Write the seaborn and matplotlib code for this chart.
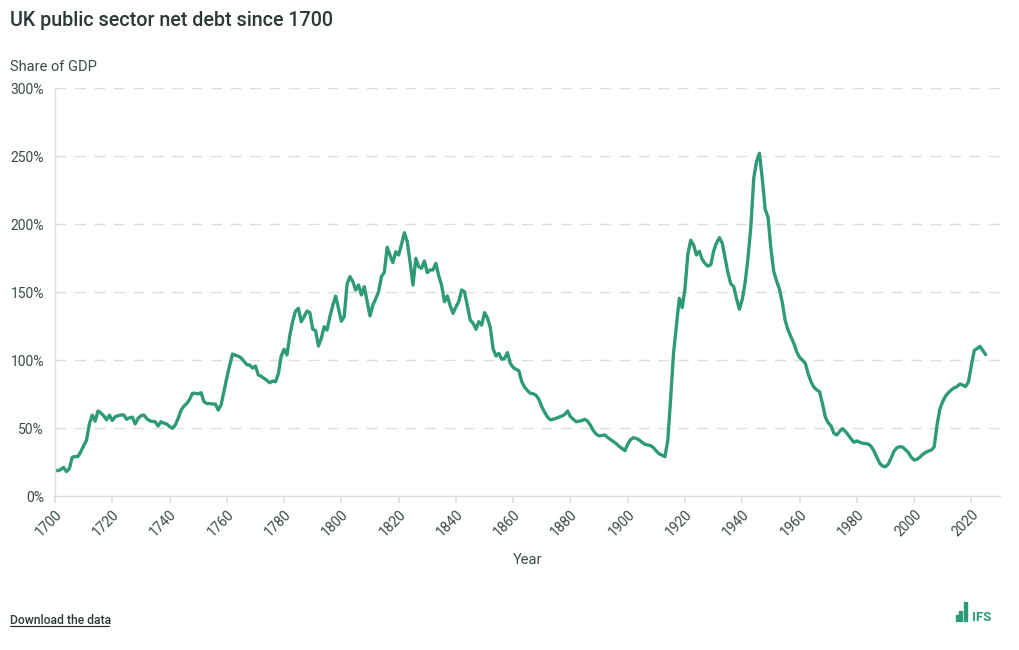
import matplotlib
matplotlib.use("Agg")
import matplotlib.pyplot as plt
import matplotlib.patches as mpatches
import seaborn as sns
import pandas as pd
import numpy as np

years = list(range(1700, 2026))
debt_pct = [
    19, 18.6, 19.5, 21, 18, 20, 28.5, 29, 29, 32.5,            # 1700-1709
    37, 41, 53, 59.5, 55, 62.5, 61, 59, 56, 59.5,              # 1710-1719
    55.5, 58.3, 59, 59.5, 59.6, 56.4, 57.5, 58, 53, 57,        # 1720-1729
    59, 59.6, 57, 55.4, 54.8, 54.6, 51.5, 54.6, 53.5, 53,      # 1730-1739
    51, 49.8, 52.2, 57, 63, 66, 68, 71, 75.5, 75.5,            # 1740-1749
    75, 76, 69.4, 68, 68, 67.6, 67.6, 63.2, 67, 77,            # 1750-1759
    87, 96, 104.4, 103.5, 102.8, 101.5, 99, 96.5, 96.3, 94,    # 1760-1769
    95.6, 89, 88, 86.5, 85, 83.3, 84.5, 84, 90, 103,           # 1770-1779
    107.8, 103.7, 118, 128.5, 136, 138, 128.2, 132, 136, 134.8,  # 1780-1789
    122.6, 121.6, 110.3, 116, 124.5, 122, 132, 140, 147, 138,  # 1790-1799
    128.5, 132, 155.9, 161.3, 157.6, 151.5, 155.1, 147.8, 153.9, 143,  # 1800-1809
    132.4, 140.4, 145, 150.2, 161.3, 164.5, 182.9, 177, 171.6, 179.6,  # 1810-1819
    177.2, 185, 193.6, 187, 172, 155.1, 174.8, 168.6, 167.4, 172.8,    # 1820-1829
    164.2, 166.2, 166.2, 171.1, 162, 155, 142.9, 147.1, 140, 134.3,    # 1830-1839
    139, 143, 151.5, 150.2, 140, 129.4, 127, 122.6, 128.2, 125.7,      # 1840-1849
    134.8, 131, 124, 108, 102.9, 104.9, 100.5, 101.2, 105.4, 97.5,     # 1850-1859
    94.5, 93.2, 92, 84, 80, 77.5, 75.5, 75.2, 74, 71,                  # 1860-1869
    65.5, 61.5, 58, 56, 56.5, 57.1, 58, 58.8, 60, 62.5,                # 1870-1879
    58.3, 56.5, 54.6, 55, 55.4, 56.4, 55, 52, 48, 45.5,                # 1880-1889
    44.2, 44.5, 44.9, 43, 41.5, 40, 38.5, 36.5, 35, 33.3,              # 1890-1899
    38, 41.5, 42.9, 42.3, 41.2, 39.5, 38, 37.5, 37, 35.5,              # 1900-1909
    33, 31, 30, 28.9, 41.2, 72, 105, 125, 145.4, 138.5,                # 1910-1919
    152.5, 178, 188, 184.6, 177.2, 180, 174, 171, 169, 170,            # 1920-1929
    180, 186, 190, 186, 175, 164, 156, 154, 145, 137.3,                # 1930-1939
    144.6, 157, 175, 198, 233.6, 246, 252, 233, 210.8, 204.9,          # 1940-1949
    182, 165, 158, 152, 142, 129, 122, 117, 112.3, 106,                # 1950-1959
    102, 100, 97.6, 90, 84, 80, 78, 76.7, 68, 58,                      # 1960-1969
    53.9, 51.5, 46.1, 44.9, 47.5, 49.5, 47.5, 44.9, 42, 39.5,          # 1970-1979
    40.5, 39.5, 38.8, 38.5, 38.2, 36.5, 33, 28.5, 24, 22,              # 1980-1989
    21.5, 23.5, 28, 33, 35.5, 36.2, 36, 34, 32, 28.5,                  # 1990-1999
    26.5, 27, 28.5, 30.5, 32, 33, 33.8, 36, 52, 64,                    # 2000-2009
    69.5, 73.5, 76, 78, 79.5, 80.5, 82.4, 81.5, 80.5, 84,              # 2010-2019
    96, 107, 108.5, 110, 107, 104,                                     # 2020-2025
]

x_ticks = list(range(1700, 2021, 20))
y_ticks = [0, 50, 100, 150, 200, 250, 300]
y_tick_labels = [f"{v}%" for v in y_ticks]

title = "UK public sector net debt since 1700"
y_title = "Share of GDP"
x_title = "Year"

df = pd.DataFrame({"Year": years, "Debt": debt_pct})

sns.set_theme(style="white")
plt.rcParams["font.family"] = ["Roboto", "DejaVu Sans"]

LINE = "#2e9b74"
TXT = "#3a4a4a"
GRID = "#dedede"

fig = plt.figure(figsize=(10.2, 6.5), dpi=100)
ax = fig.add_axes([55 / 1020, 1 - 496 / 650, 945 / 1020, 408 / 650])

sns.lineplot(data=df, x="Year", y="Debt", ax=ax, color=LINE, linewidth=2.4)

ax.set_xlim(1700, 2030)
ax.set_ylim(0, 300)
ax.set_yticks(y_ticks)
ax.set_yticklabels(y_tick_labels)
ax.set_xticks(x_ticks)
ax.set_xticklabels([str(t) for t in x_ticks], rotation=45, ha="right",
                   rotation_mode="anchor")

for v in y_ticks[1:]:
    ax.axhline(v, color=GRID, linewidth=1, linestyle=(0, (8, 6)), zorder=0)

for s in ["top", "right"]:
    ax.spines[s].set_visible(False)
for s in ["left", "bottom"]:
    ax.spines[s].set_color(GRID)
    ax.spines[s].set_linewidth(1)

ax.tick_params(axis="x", which="major", length=5, color=GRID, labelsize=10,
               labelcolor=TXT, pad=3, bottom=True)
ax.tick_params(axis="y", which="major", length=0, labelsize=10,
               labelcolor=TXT, pad=8)
ax.set_xlabel(x_title, fontsize=10.5, color=TXT, labelpad=10)
ax.set_ylabel("")

fig.text(10 / 1020, 1 - 20 / 650, title, fontsize=14.2, fontweight="medium",
         color="#2b3838", va="center", ha="left")
fig.text(10 / 1020, 1 - 67 / 650, y_title, fontsize=10.5, color=TXT,
         va="center", ha="left")

fig.text(10 / 1020, 1 - 620 / 650, "Download the data", fontsize=8.7,
         fontweight="medium", color="#2b3838", va="center", ha="left")
fig.add_artist(plt.Line2D([10 / 1020, 109 / 1020],
                          [1 - 626 / 650, 1 - 626 / 650],
                          color="#2b3838", linewidth=0.9))

# IFS logo
bars = [(955.7, 615, 2), (959.5, 611, 2.3), (964, 602, 3)]
for bx, by, bw in bars:
    fig.add_artist(mpatches.Rectangle((bx / 1020, 1 - 621 / 650), bw / 1020,
                                      (621 - by) / 650, color=LINE,
                                      transform=fig.transFigure))
fig.text(972 / 1020, 1 - 621 / 650, "IFS", fontsize=9.5, fontweight="bold",
         color=LINE, va="baseline", ha="left")

fig.savefig("out.png", dpi=100)
